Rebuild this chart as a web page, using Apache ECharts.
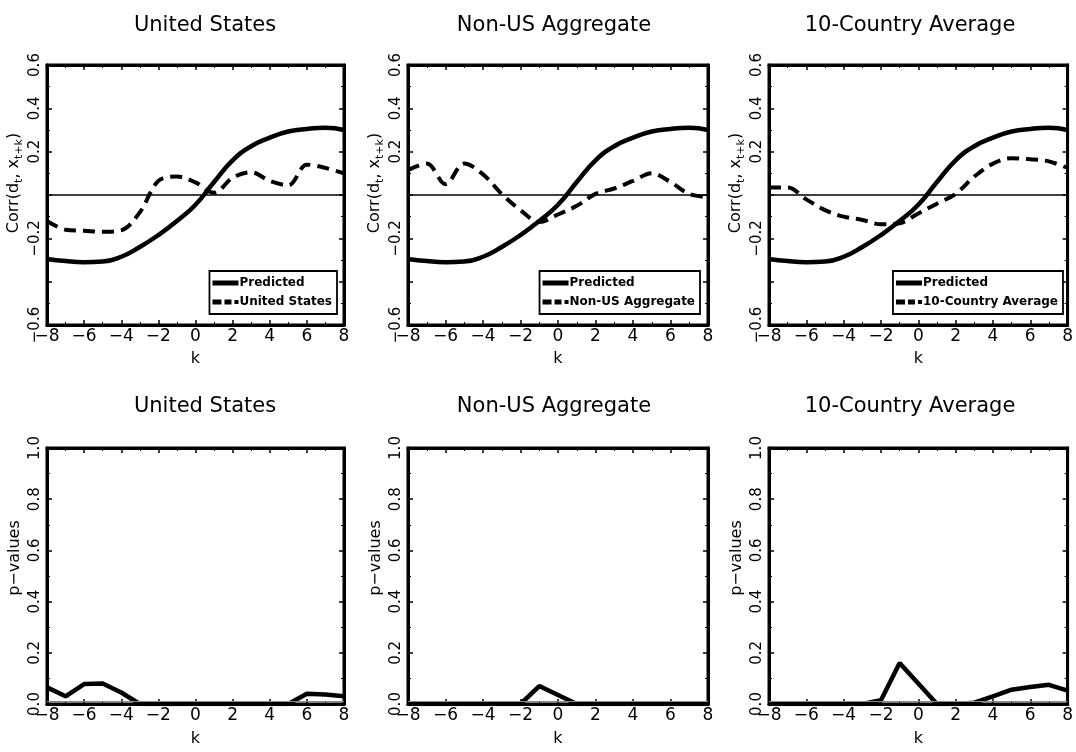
<!DOCTYPE html>
<html>
<head>
<meta charset="utf-8">
<script src="https://cdn.jsdelivr.net/npm/echarts@6/dist/echarts.min.js"></script>
<style>
  html, body { margin: 0; padding: 0; background: #fff; }
  #chart { width: 1076px; height: 752px; }
</style>
</head>
<body>
<div id="chart"></div>
<script>
// ---------- data ----------
const kValues = [-8, -7, -6, -5, -4, -3, -2, -1, 0, 1, 2, 3, 4, 5, 6, 7, 8];
const panelTitles = ['United States', 'Non-US Aggregate', '10-Country Average'];

const predicted = [-0.295, -0.305, -0.31, -0.307, -0.285, -0.24, -0.185, -0.12, -0.045, 0.06, 0.16, 0.225, 0.265, 0.293, 0.305, 0.31, 0.30];
const corrUS    = [-0.12, -0.16, -0.165, -0.17, -0.163, -0.08, 0.065, 0.085, 0.058, 0.01, 0.08, 0.105, 0.065, 0.045, 0.14, 0.125, 0.10];
const corrNonUS = [0.115, 0.145, 0.05, 0.145, 0.095, 0.005, -0.07, -0.125, -0.09, -0.05, 0.005, 0.03, 0.065, 0.1, 0.06, 0.005, -0.01];
const corrTen   = [0.035, 0.035, -0.02, -0.07, -0.1, -0.115, -0.135, -0.13, -0.085, -0.04, 0.005, 0.085, 0.145, 0.17, 0.165, 0.155, 0.125];

const pUS    = [0.065, 0.03, 0.078, 0.08, 0.045, 0, 0, 0, 0, 0, 0, 0, 0, 0, 0.04, 0.037, 0.03];
const pNonUS = [0, 0, 0, 0, 0, 0, 0, 0.07, 0.035, 0, 0, 0, 0, 0, 0, 0, 0];
const pTen   = [0, 0, 0, 0, 0, 0, 0.015, 0.16, 0.08, 0, 0, 0.005, 0.03, 0.056, 0.066, 0.075, 0.052];

const corrShownTicks = [0.6, 0.4, 0.2, -0.2, -0.6];

// ---------- layout ----------
const FONT = 'DejaVu Sans';
const colLeft = [47, 408, 769];
const colWidth = [297, 300, 299];
const rowTop = [65, 448];
const rowHeight = [260, 256];
const titleCenters = [200, 549, 905];
const titleTops = [10, 391];
const legendRight = [739, 376, 13];

const ICON_SOLID = 'path://M0,0 L26,0 L26,5 L0,5 Z';
const ICON_DASH = 'path://M0,0 L9,0 L9,5 L0,5 Z M12,0 L19,0 L19,5 L12,5 Z M22,0.6 L26,0.6 L26,4.4 L22,4.4 Z';

const pair = (ys) => kValues.map((k, i) => [k, ys[i]]);
const minus = (s) => s.replace('-', '\u2212');

const grids = [], xAxes = [], yAxes = [], series = [], titles = [], legends = [];
const corrSets = [corrUS, corrNonUS, corrTen];
const pSets = [pUS, pNonUS, pTen];

const axisLineStyle = { show: true, onZero: false, lineStyle: { color: '#000', width: 3 } };
const tickStyle = { show: true, inside: true, length: 5, lineStyle: { color: '#000', width: 1.5 } };
const minorStyle = { show: true, splitNumber: 2, length: 3, lineStyle: { color: '#000', width: 1 } };

for (let r = 0; r < 2; r++) {
  for (let c = 0; c < 3; c++) {
    const gi = r * 3 + c;
    grids.push({
      left: colLeft[c], top: rowTop[r], width: colWidth[c], height: rowHeight[r],
      show: true, borderColor: '#000', borderWidth: 3, backgroundColor: '#fff'
    });
    titles.push({
      text: panelTitles[c], left: titleCenters[c], top: titleTops[r], textAlign: 'center',
      textStyle: { fontFamily: FONT, fontSize: 21, fontWeight: 'normal', color: '#000' }
    });
    xAxes.push({
      type: 'value', gridIndex: gi, min: -8, max: 8, interval: 2, position: 'bottom',
      axisLine: axisLineStyle, axisTick: tickStyle, minorTick: minorStyle,
      splitLine: { show: false },
      axisLabel: { fontFamily: FONT, fontSize: 17, color: '#000', margin: 3, formatter: (v) => minus(String(v)) },
      name: 'k', nameLocation: 'middle', nameGap: r === 0 ? 26 : 27,
      nameTextStyle: { fontFamily: FONT, fontSize: 16, color: '#000' }
    });
    xAxes.push({
      type: 'value', gridIndex: gi, min: -8, max: 8, interval: 2, position: 'top',
      axisLine: axisLineStyle, axisTick: tickStyle, minorTick: minorStyle,
      splitLine: { show: false }, axisLabel: { show: false }
    });
    const isCorr = r === 0;
    const yBase = {
      type: 'value', gridIndex: gi,
      min: isCorr ? -0.6 : 0, max: isCorr ? 0.6 : 1.0, interval: 0.2,
      axisLine: axisLineStyle, axisTick: tickStyle, minorTick: minorStyle,
      splitLine: { show: false }
    };
    yAxes.push(Object.assign({}, yBase, {
      position: 'left',
      axisLabel: {
        fontFamily: FONT, fontSize: 15, color: '#000', rotate: 90, margin: 4,
        formatter: (v) => {
          if (isCorr) {
            const rv = Math.round(v * 10) / 10;
            if (!corrShownTicks.some(t => Math.abs(t - rv) < 1e-9)) return '';
            return minus(rv.toFixed(1));
          }
          return v.toFixed(1);
        }
      },
      name: isCorr ? '{a|Corr(d}{s|t}{a|, x}{s|t+k}{a|)}' : 'p\u2212values',
      nameLocation: 'middle', nameGap: isCorr ? 22 : 24, nameRotate: 90,
      nameTextStyle: {
        fontFamily: FONT, fontSize: 16, color: '#000',
        padding: isCorr ? [0, 0, 0, 24] : [0, 0, 0, 36],
        rich: {
          a: { fontFamily: FONT, fontSize: 16, color: '#000', lineHeight: 22 },
          s: { fontFamily: FONT, fontSize: 11, color: '#000', lineHeight: 22, verticalAlign: 'bottom', padding: [8, 0, 0, 0] }
        }
      }
    }));
    yAxes.push(Object.assign({}, yBase, { position: 'right', axisLabel: { show: false } }));

    const axIdx = { xAxisIndex: gi * 2, yAxisIndex: gi * 2 };
    if (isCorr) {
      series.push(Object.assign({
        name: 'Predicted', type: 'line', data: pair(predicted), smooth: 0.5,
        symbol: 'none', showSymbol: false, z: 3,
        lineStyle: { color: '#000', width: 4.5 },
        itemStyle: { color: '#000' },
        markLine: {
          silent: true, symbol: ['none', 'none'], label: { show: false },
          lineStyle: { color: '#000', width: 1.5, type: 'solid' },
          data: [{ yAxis: 0 }], animation: false
        }
      }, axIdx));
      series.push(Object.assign({
        name: panelTitles[c], type: 'line', data: pair(corrSets[c]), smooth: 0.35,
        symbol: 'none', showSymbol: false, z: 4,
        lineStyle: { color: '#000', width: 4, type: [12, 7] },
        itemStyle: { color: '#000' }
      }, axIdx));
      legends.push({
        data: [
          { name: 'Predicted', icon: ICON_SOLID },
          { name: panelTitles[c], icon: ICON_DASH }
        ],
        orient: 'vertical', right: legendRight[c], top: 271,
        itemWidth: 26, itemHeight: 5, itemGap: 7,
        padding: [6, 5, 6, 3],
        borderColor: '#000', borderWidth: 1.8, backgroundColor: '#fff',
        selectedMode: false,
        itemStyle: { color: '#000' },
        textStyle: { fontFamily: FONT, fontSize: 12, fontWeight: 'bold', color: '#000', padding: [0, 0, 0, -4] }
      });
    } else {
      series.push(Object.assign({
        name: 'p ' + panelTitles[c], type: 'line', data: pair(pSets[c]),
        symbol: 'none', showSymbol: false, z: 4,
        lineStyle: { color: '#000', width: 4.5 },
        markLine: {
          silent: true, symbol: ['none', 'none'], label: { show: false },
          lineStyle: { color: '#888', width: 1, type: 'solid' },
          data: [{ yAxis: 0.008 }], animation: false
        }
      }, axIdx));
    }
  }
}

const chart = echarts.init(document.getElementById('chart'), null, { renderer: 'canvas' });
chart.setOption({
  animation: false,
  backgroundColor: '#fff',
  title: titles,
  legend: legends,
  grid: grids,
  xAxis: xAxes,
  yAxis: yAxes,
  series: series
});
</script>
</body>
</html>
